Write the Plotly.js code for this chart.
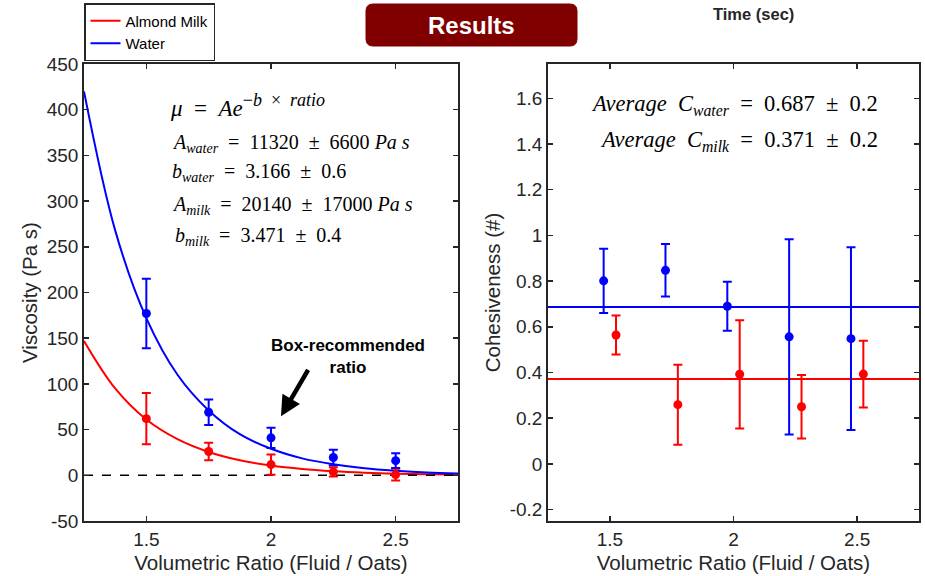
<!DOCTYPE html>
<html>
<head>
<meta charset="utf-8">
<script src="https://cdn.plot.ly/plotly-3.0.1.min.js"></script>
<style>html,body{margin:0;padding:0;background:#fff;}#chart{width:925px;height:576px;}</style>
</head>
<body>
<div id="chart"></div>
<script>
// ---------- data ----------
var ratios = [1.5, 1.75, 2, 2.25, 2.5];
var viscWater = [177, 69, 41, 19.5, 16];
var viscWaterErr = [38, 14, 11, 8.5, 8];
var viscMilk = [62, 26, 11.7, 3.8, 0.8];
var viscMilkErr = [28, 9.5, 11, 5, 6.5];

var fitX = [1.25, 1.375, 1.5, 1.625, 1.75, 1.875, 2, 2.125, 2.25, 2.375, 2.5, 2.625, 2.75];
var fitWater = [420, 268, 172, 110, 71, 45, 29, 18.5, 12, 7.6, 4.9, 3, 2];
var fitMilk = [147, 95, 61, 39.5, 25.5, 16.4, 10.6, 6.8, 4.4, 2.8, 1.8, 1.2, 0.8];

var zeroX = [1.25, 2.75];
var zeroY = [0, 0];

var cohWaterX = [1.475, 1.725, 1.975, 2.225, 2.475];
var cohWater = [0.801, 0.847, 0.69, 0.556, 0.548];
var cohWaterErr = [0.141, 0.115, 0.107, 0.427, 0.4];
var cohMilkX = [1.525, 1.775, 2.025, 2.275, 2.525];
var cohMilk = [0.564, 0.259, 0.392, 0.25, 0.393];
var cohMilkErr = [0.085, 0.175, 0.237, 0.139, 0.146];
var avgWater = 0.687;
var avgMilk = 0.371;

var xTickVals = [1.5, 2, 2.5];
var xTickText = ['1.5', '2', '2.5'];
var yTickVals = [-50, 0, 50, 100, 150, 200, 250, 300, 350, 400, 450];
var yTickText = ['-50', '0', '50', '100', '150', '200', '250', '300', '350', '400', '450'];
var y2TickVals = [-0.2, 0, 0.2, 0.4, 0.6, 0.8, 1, 1.2, 1.4, 1.6];
var y2TickText = ['-0.2', '0', '0.2', '0.4', '0.6', '0.8', '1', '1.2', '1.4', '1.6'];

// ---------- styling ----------
var RED = '#ff0000', BLUE = '#0000ff', AX = '#262626';
var SANS = 'Liberation Sans, Arial, sans-serif';
var SERIF = 'Liberation Serif, Times New Roman, serif';
var ML = 84, MR = 6, MT = 64, MB = 55, W = 925, H = 576;
var PW = W - ML - MR, PH = H - MT - MB;
function px(x) { return (x - ML) / PW; }
function py(y) { return (H - MB - y) / PH; }
var SP = '\u2002'; // en space, mimics the wide math spacing

function errTrace(x, y, e, color, xa, ya) {
  return {
    x: x, y: y, type: 'scatter', mode: 'markers', xaxis: xa, yaxis: ya, showlegend: false,
    marker: {color: color, size: 9},
    error_y: {type: 'data', array: e, visible: true, color: color, thickness: 2, width: 4.5}
  };
}

var traces = [
  {x: fitX, y: fitMilk, type: 'scatter', mode: 'lines', name: 'Almond Milk', line: {color: RED, width: 2, shape: 'spline'}, xaxis: 'x', yaxis: 'y'},
  {x: fitX, y: fitWater, type: 'scatter', mode: 'lines', name: 'Water', line: {color: BLUE, width: 2, shape: 'spline'}, xaxis: 'x', yaxis: 'y'},
  {x: zeroX, y: zeroY, type: 'scatter', mode: 'lines', showlegend: false, line: {color: '#000', width: 1.5, dash: 'dash'}, xaxis: 'x', yaxis: 'y'},
  errTrace(ratios, viscMilk, viscMilkErr, RED, 'x', 'y'),
  errTrace(ratios, viscWater, viscWaterErr, BLUE, 'x', 'y'),
  {x: zeroX, y: [avgWater, avgWater], type: 'scatter', mode: 'lines', showlegend: false, line: {color: BLUE, width: 2}, xaxis: 'x2', yaxis: 'y2'},
  {x: zeroX, y: [avgMilk, avgMilk], type: 'scatter', mode: 'lines', showlegend: false, line: {color: RED, width: 2}, xaxis: 'x2', yaxis: 'y2'},
  errTrace(cohWaterX, cohWater, cohWaterErr, BLUE, 'x2', 'y2'),
  errTrace(cohMilkX, cohMilk, cohMilkErr, RED, 'x2', 'y2')
];

function axis(extra) {
  var a = {
    showline: true, linecolor: AX, linewidth: 1.8, mirror: 'ticks',
    ticks: 'inside', ticklen: 5, tickwidth: 1.5, tickcolor: AX,
    showgrid: false, zeroline: false, fixedrange: true,
    tickfont: {family: SANS, size: 19, color: AX}
  };
  for (var k in extra) a[k] = extra[k];
  return a;
}
var titleFont = {family: SANS, size: 20.5, color: AX};

var rx = 7 / PW, ry = 7 / PH;
var bx0 = px(366), bx1 = px(577), by1 = py(4), by0 = py(46);
var boxPath = 'M' + (bx0 + rx) + ',' + by1 + ' L' + (bx1 - rx) + ',' + by1 +
  ' Q' + bx1 + ',' + by1 + ' ' + bx1 + ',' + (by1 - ry) +
  ' L' + bx1 + ',' + (by0 + ry) + ' Q' + bx1 + ',' + by0 + ' ' + (bx1 - rx) + ',' + by0 +
  ' L' + (bx0 + rx) + ',' + by0 + ' Q' + bx0 + ',' + by0 + ' ' + bx0 + ',' + (by0 + ry) +
  ' L' + bx0 + ',' + (by1 - ry) + ' Q' + bx0 + ',' + by1 + ' ' + (bx0 + rx) + ',' + by1 + ' Z';

function eq(text, x, y, anchor, size) {
  return {xref: 'paper', yref: 'paper', x: px(x), y: py(y), xanchor: anchor, yanchor: 'middle',
    text: text, showarrow: false, font: {family: SERIF, size: size, color: '#000'}};
}

var layout = {
  width: W, height: H,
  margin: {l: ML, r: MR, t: MT, b: MB, autoexpand: false},
  paper_bgcolor: '#fff', plot_bgcolor: '#fff',
  showlegend: true,
  legend: {x: px(84), y: py(3), xanchor: 'left', yanchor: 'top', bgcolor: '#fff',
    bordercolor: '#262626', borderwidth: 1.5, font: {family: SANS, size: 15, color: '#000'},
    tracegroupgap: 0, itemwidth: 30},
  xaxis: axis({domain: [0, (458 - ML) / PW], range: [1.25, 2.75], anchor: 'y',
    tickvals: xTickVals, ticktext: xTickText,
    title: {text: 'Volumetric Ratio (Fluid / Oats)', font: titleFont, standoff: 7}}),
  yaxis: axis({domain: [0, 1], range: [-50, 450], anchor: 'x',
    tickvals: yTickVals, ticktext: yTickText,
    title: {text: 'Viscosity (Pa s)', font: titleFont, standoff: 3}}),
  xaxis2: axis({domain: [(548 - ML) / PW, 1], range: [1.25, 2.75], anchor: 'y2',
    tickvals: xTickVals, ticktext: xTickText,
    title: {text: 'Volumetric Ratio (Fluid / Oats)', font: titleFont, standoff: 7}}),
  yaxis2: axis({domain: [0, 1], range: [-0.25, 1.75], anchor: 'x2',
    tickvals: y2TickVals, ticktext: y2TickText,
    title: {text: 'Cohesiveness (#)', font: titleFont, standoff: 3}}),
  shapes: [
    {type: 'path', xref: 'paper', yref: 'paper', path: boxPath, fillcolor: '#800000', line: {color: '#800000', width: 1}}
  ],
  annotations: [
    {xref: 'paper', yref: 'paper', x: px(471.5), y: py(26), xanchor: 'center', yanchor: 'middle',
      text: '<b>Results</b>', showarrow: false, font: {family: SANS, size: 24, color: '#fff'}},
    {xref: 'paper', yref: 'paper', x: px(753), y: py(14), xanchor: 'center', yanchor: 'middle',
      text: '<b>Time (sec)</b>', showarrow: false, font: {family: SANS, size: 16.5, color: AX}},
    eq('<i>μ</i>' + SP + '=' + SP + '<i>Ae</i><sup><span style="font-size:18px">−<i>b</i>' + SP + '×' + SP + '<i>ratio</i></span></sup>', 168, 106, 'left', 23),
    eq('<i>A</i><sub><i>water</i></sub>' + SP + '=' + SP + '11320' + SP + '±' + SP + '6600 <i>Pa s</i>', 170, 143, 'left', 20),
    eq('<i>b</i><sub><i>water</i></sub>' + SP + '=' + SP + '3.166' + SP + '±' + SP + '0.6', 170, 173, 'left', 20),
    eq('<i>A</i><sub><i>milk</i></sub>' + SP + '=' + SP + '20140' + SP + '±' + SP + '17000 <i>Pa s</i>', 170, 205, 'left', 20),
    eq('<i>b</i><sub><i>milk</i></sub>' + SP + '=' + SP + '3.471' + SP + '±' + SP + '0.4', 173, 237, 'left', 20),
    eq('<i>Average' + SP + 'C</i><sub><i>water</i></sub>' + SP + '=' + SP + '0.687' + SP + '±' + SP + '0.2', 880, 105, 'right', 22.5),
    eq('<i>Average' + SP + 'C</i><sub><i>milk</i></sub>' + SP + '=' + SP + '0.371' + SP + '±' + SP + '0.2', 880, 141, 'right', 22.5),
    {xref: 'paper', yref: 'paper', x: px(348), y: py(356), xanchor: 'center', yanchor: 'middle',
      text: '<b>Box-recommended<br>ratio</b>', showarrow: false, align: 'center',
      font: {family: SANS, size: 17, color: '#000'}},
    {xref: 'x', yref: 'y', x: 2.04, y: 64.5, ax: 28, ay: -48, text: '', showarrow: true,
      arrowhead: 2, arrowsize: 0.9, arrowwidth: 4.5, arrowcolor: '#000', standoff: 0}
  ]
};

Plotly.newPlot('chart', traces, layout, {displayModeBar: false, staticPlot: true});
</script>
</body>
</html>
